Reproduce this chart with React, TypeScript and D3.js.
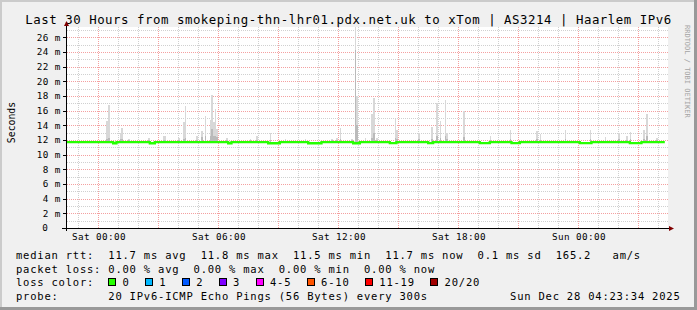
import React from "react";
import * as d3 from "d3";

// ---------- data ----------
const titleText =
  "Last 30 Hours from smokeping-thn-lhr01.pdx.net.uk to xTom | AS3214 | Haarlem IPv6";
const yAxisTitle = "Seconds";
const watermark = "RRDTOOL / TOBI OETIKER";
const endTime = new Date(2025, 11, 28, 4, 23, 34);
const spanHours = 30;
const dataRefDay = new Date(2025, 11, 27, 0, 0, 0); // Sat 00:00
const yMaxMs = 27.4;
const yTickValues = [0, 2, 4, 6, 8, 10, 12, 14, 16, 18, 20, 22, 24, 26];

// smoke samples: minutes after Sat 00:00, max ping (ms), inner dense part (ms)
const smokeMinutes = [
  25, 30, 65, 70, 90, 150, 195, 200, 240, 255, 260, 295, 310, 320, 335, 340, 345, 350, 355,
  385, 455, 475, 515, 560, 620, 700, 715, 725, 760, 770, 775, 800, 820, 825, 835, 890, 895,
  960, 1000, 1015, 1025, 1040, 1045, 1095, 1175, 1235, 1315, 1325, 1400, 1475, 1520, 1560,
  1585, 1595, 1635, 1645, 1675,
];
const smokeMax = [
  14.6, 16.7, 13.0, 13.7, 12.1, 12.3, 12.6, 12.6, 12.3, 14.4, 16.6, 12.5, 13.2, 15.2, 14.7,
  18.1, 14.5, 16.2, 13.5, 12.3, 12.2, 12.6, 12.9, 12.2, 12.2, 12.2, 12.3, 13.7, 12.2, 27.6,
  18.0, 12.3, 15.6, 17.7, 12.3, 14.8, 13.4, 13.0, 13.8, 17.0, 14.6, 17.4, 13.0, 16.0, 12.6,
  13.3, 13.2, 12.8, 13.3, 13.3, 12.4, 13.0, 12.6, 13.05, 13.4, 15.5, 12.3,
];
const smokeInner = [
  12.2, 12.3, 12.1, 12.1, 12.0, 12.0, 12.0, 12.0, 12.0, 12.2, 12.3, 12.0, 12.4, 12.6, 12.6,
  13.5, 12.6, 12.6, 12.4, 12.0, 12.0, 12.0, 12.0, 12.0, 12.0, 12.0, 12.0, 12.2, 12.0, 24.3,
  14.0, 12.0, 12.3, 13.0, 12.0, 12.3, 12.2, 12.1, 12.2, 12.6, 12.3, 12.6, 12.1, 12.4, 12.0,
  12.1, 12.1, 12.0, 12.1, 12.1, 12.0, 12.1, 12.0, 12.1, 12.2, 12.5, 12.0,
];
const smokeFloor = 11.55;

// median rtt: base level plus lower stretches (minutes after Sat 00:00)
const medianBase = 11.7;
const dipStart = [45, 155, 390, 510, 630, 765, 875, 990, 1145, 1240, 1445, 1595];
const dipEnd = [55, 170, 400, 545, 670, 785, 895, 1005, 1175, 1265, 1480, 1630];
const dipValue = [11.55, 11.55, 11.55, 11.55, 11.55, 11.55, 11.56, 11.56, 11.56, 11.56, 11.56, 11.56];
const medianEndMinute = 1700;

// legend
const rttLabel = "median rtt:  ";
const rttItems = ["11.7 ms avg", "11.8 ms max", "11.5 ms min", "11.7 ms now", "0.1 ms sd", "165.2   am/s"];
const lossLabel = "packet loss: ";
const lossItems = ["0.00 % avg", "0.00 % max", "0.00 % min", "0.00 % now"];
const lossColorLabel = "loss color:";
const lossColorNames = ["0", "1", "2", "3", "4-5", "6-10", "11-19", "20/20"];
const lossColorValues = ["#26ff00", "#00b8ff", "#0059ff", "#7e00ff", "#ff00ff", "#ff5500", "#ff0000", "#a10000"];
const probeLabel = "probe:       ";
const probeText = "20 IPv6-ICMP Echo Pings (56 Bytes) every 300s";
const stampText = "Sun Dec 28 04:23:34 2025";

// ---------- layout ----------
const W = 697;
const H = 310;
const MONO = "'DejaVu Sans Mono', monospace";
const plotLeft = 66;
const plotRight = 666;
const plotTop = 27;
const plotBottom = 228;
const legAdv = 7.1;

export default function App() {
  const startTime = new Date(endTime.getTime() - spanHours * 3600e3);
  const x = d3.scaleTime().domain([startTime, endTime]).range([plotLeft, plotRight]);
  const y = d3.scaleLinear().domain([0, yMaxMs]).range([plotBottom, plotTop]);
  const minuteToDate = (m: number) => new Date(dataRefDay.getTime() + m * 60e3);
  const px = (v: number) => Math.round(v) + 0.5;

  const hours = d3.timeHour.range(startTime, endTime);
  const majorHours = hours.filter((h) => h.getHours() % 3 === 0);
  const minorHours = hours.filter((h) => h.getHours() % 3 !== 0);
  const labelHours = hours.filter((h) => h.getHours() % 6 === 0);
  const fmt = d3.timeFormat("%a %H:%M");

  const hMinor = d3.range(1, Math.floor(yMaxMs) + 1).filter((v) => v % 2 === 1);
  const hMajor = yTickValues.filter((v) => v > 0);

  const gridRight = plotRight + 2;

  // median path
  const medPts: [Date, number][] = [[startTime, medianBase]];
  dipStart.forEach((s, i) => {
    medPts.push([minuteToDate(s), dipValue[i]]);
    medPts.push([minuteToDate(dipEnd[i]), medianBase]);
  });
  medPts.push([minuteToDate(medianEndMinute), medianBase]);
  const medLine = d3
    .line<[Date, number]>()
    .x((d) => x(d[0]))
    .y((d) => y(d[1]))
    .curve(d3.curveStepAfter);

  // loss color legend positions
  let cx = 108;
  const colorItems = lossColorNames.map((name, i) => {
    const bx = cx;
    const lx = bx + 14.4;
    cx = lx + name.length * legAdv + 15.4;
    return { name, color: lossColorValues[i], bx, lx };
  });

  const legendStyle = { fontFamily: MONO, fontSize: 10.5, letterSpacing: 0.78 } as const;

  return (
    <div style={{ position: "absolute", left: 0, top: 0 }}>
      <svg width={W} height={H} viewBox={`0 0 ${W} ${H}`} style={{ display: "block" }}>
        {/* background & frame */}
        <rect x={0} y={0} width={W} height={H} fill="#f0f0f0" />
        <rect x={0} y={0} width={W} height={2} fill="#cbcbcb" />
        <rect x={0} y={0} width={2} height={H} fill="#cbcbcb" />
        <rect x={0} y={H - 3} width={W} height={3} fill="#999999" />
        <rect x={W - 3} y={0} width={3} height={H} fill="#999999" />

        {/* title */}
        <text
          x={W / 2}
          y={23.5}
          textAnchor="middle"
          style={{ fontFamily: MONO, fontSize: 12.4, letterSpacing: 0.52 }}
          fill="#000"
        >
          {titleText}
        </text>

        {/* watermark */}
        <text
          transform={`translate(685,25) rotate(90)`}
          style={{ fontFamily: MONO, fontSize: 7 }}
          fill="#a4a4a4"
        >
          {watermark}
        </text>

        {/* plot canvas */}
        <rect x={plotLeft + 1} y={plotTop} width={gridRight - plotLeft - 1} height={plotBottom - plotTop} fill="#ffffff" />

        {/* grid */}
        <g shapeRendering="crispEdges">
          {minorHours.map((h, i) => (
            <line key={"vm" + i} x1={px(x(h))} x2={px(x(h))} y1={plotTop} y2={plotBottom} stroke="#d0d0d0" strokeDasharray="1,1" />
          ))}
          {hMinor.map((v, i) => (
            <line key={"hm" + i} x1={plotLeft + 1} x2={gridRight} y1={px(y(v))} y2={px(y(v))} stroke="#d0d0d0" strokeDasharray="1,1" />
          ))}
          {majorHours.map((h, i) => (
            <line key={"vM" + i} x1={px(x(h))} x2={px(x(h))} y1={plotTop} y2={plotBottom} stroke="#f4a0a0" strokeDasharray="1,1" />
          ))}
          {hMajor.map((v, i) => (
            <line key={"hM" + i} x1={plotLeft + 1} x2={gridRight} y1={px(y(v))} y2={px(y(v))} stroke="#f4a0a0" strokeDasharray="1,1" />
          ))}
        </g>

        {/* smoke */}
        <g shapeRendering="crispEdges">
          {smokeMinutes.map((m, i) => {
            const t0 = minuteToDate(m);
            const t1 = minuteToDate(m + 5);
            const x0 = x(t0);
            const w = x(t1) - x0;
            const top = y(Math.min(smokeMax[i], yMaxMs));
            const inner = y(smokeInner[i]);
            const floor = y(smokeFloor);
            return (
              <g key={"s" + i}>
                <rect x={x0} y={top} width={w} height={floor - top} fill="#d8d8d8" />
                <rect x={x0} y={inner} width={w} height={floor - inner} fill="#bababa" />
              </g>
            );
          })}
        </g>

        {/* median */}
        <path d={medLine(medPts) || ""} fill="none" stroke="#26ff00" strokeWidth={2.3} />

        {/* axes */}
        <g shapeRendering="crispEdges">
          <line x1={62} x2={670} y1={plotBottom + 0.5} y2={plotBottom + 0.5} stroke="#000" />
          <line x1={plotLeft + 0.5} x2={plotLeft + 0.5} y1={24} y2={231} stroke="#000" />
          {hMajor.map((v, i) => (
            <line key={"yt" + i} x1={plotLeft - 3} x2={plotLeft} y1={px(y(v))} y2={px(y(v))} stroke="#000" />
          ))}
        </g>
        <polygon points={`${plotLeft - 2},26 ${plotLeft + 3},26 ${plotLeft + 0.5},21`} fill="#800000" />
        <polygon points={`669,226 669,231 674,228.5`} fill="#800000" />

        {/* y labels */}
        {yTickValues.map((v, i) => (
          <text
            key={"yl" + i}
            x={v === 0 ? 48.3 : 60.8}
            y={y(v) + 3.4}
            textAnchor="end"
            style={{ fontFamily: MONO, fontSize: 9.3, letterSpacing: 0.4 }}
            fill="#000"
          >
            {v === 0 ? "0" : `${v} m`}
          </text>
        ))}
        <text
          transform={`translate(15,122.5) rotate(-90)`}
          textAnchor="middle"
          style={{ fontFamily: MONO, fontSize: 9.8 }}
          fill="#000"
        >
          {yAxisTitle}
        </text>

        {/* x labels */}
        {labelHours.map((h, i) => (
          <text
            key={"xl" + i}
            x={x(h) + 0.9}
            y={240}
            textAnchor="middle"
            style={{ fontFamily: MONO, fontSize: 9.3, letterSpacing: 0.4 }}
            fill="#000"
          >
            {fmt(h)}
          </text>
        ))}

        {/* legend */}
        <text x={16} y={259} style={legendStyle} xmlSpace="preserve" fill="#000">
          {rttLabel + rttItems.join("  ")}
        </text>
        <text x={16} y={272.5} style={legendStyle} xmlSpace="preserve" fill="#000">
          {lossLabel + lossItems.join("  ")}
        </text>
        <text x={16} y={286.3} style={legendStyle} xmlSpace="preserve" fill="#000">
          {lossColorLabel}
        </text>
        {colorItems.map((c, i) => (
          <g key={"lc" + i}>
            <rect x={c.bx + 0.5} y={278} width={7} height={7} fill={c.color} stroke="#000" strokeWidth={1} shapeRendering="crispEdges" />
            <text x={c.lx} y={286.3} style={legendStyle} fill="#000">
              {c.name}
            </text>
          </g>
        ))}
        <text x={16} y={300} style={legendStyle} xmlSpace="preserve" fill="#000">
          {probeLabel + probeText}
        </text>
        <text x={680.5} y={300} textAnchor="end" style={legendStyle} fill="#000">
          {stampText}
        </text>
      </svg>
    </div>
  );
}
